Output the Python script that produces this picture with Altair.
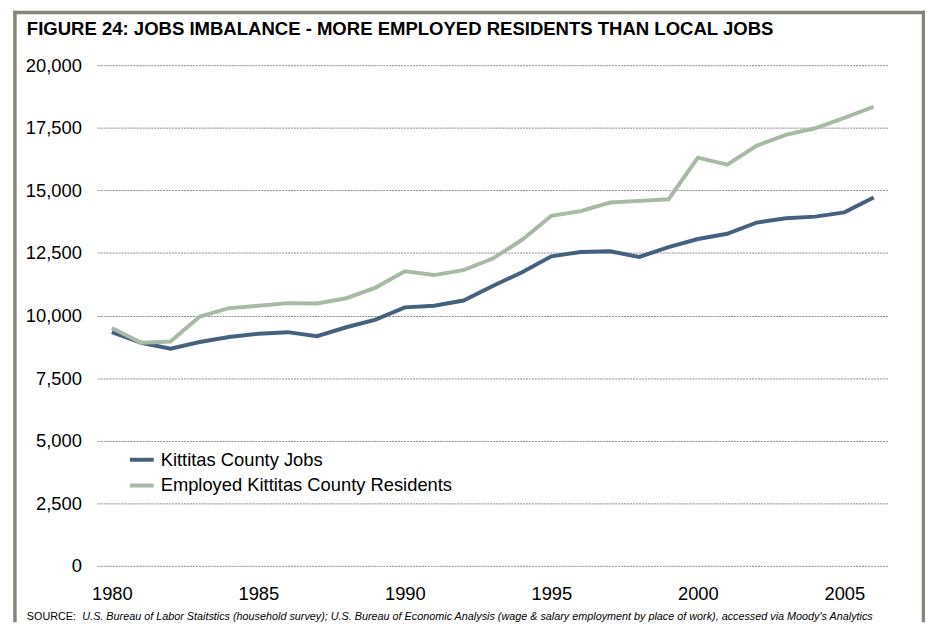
import altair as alt
import pandas as pd

years = list(range(1980, 2007))
jobs = [9335, 8910, 8675, 8940, 9140, 9270, 9335, 9175, 9530, 9835, 10325, 10390, 10600,
        11180, 11730, 12365, 12540, 12565, 12340, 12735, 13055, 13265, 13710, 13885, 13950,
        14120, 14715]
residents = [9505, 8910, 8960, 9960, 10295, 10390, 10495, 10480, 10690, 11115, 11770, 11615,
             11810, 12275, 13025, 13985, 14170, 14515, 14580, 14645, 16305, 16030, 16780,
             17215, 17480, 17900, 18340]
series_names = ["Kittitas County Jobs", "Employed Kittitas County Residents"]
series_colors = ["#46617e", "#a8b9a6"]
y_ticks = [0, 2500, 5000, 7500, 10000, 12500, 15000, 17500, 20000]
x_ticks = [1980, 1985, 1990, 1995, 2000, 2005]
title_text = "FIGURE 24: JOBS IMBALANCE - MORE EMPLOYED RESIDENTS THAN LOCAL JOBS"
source_label = "SOURCE:"
source_text = ("U.S. Bureau of Labor Staitstics (household survey); U.S. Bureau of Economic "
               "Analysis (wage & salary employment by place of work), accessed via Moody's Analytics")

df = pd.DataFrame({
    "year": years * 2,
    "value": jobs + residents,
    "series": [series_names[0]] * len(years) + [series_names[1]] * len(years),
})

W, H = 798, 505
FONT = "Liberation Sans"
FRAME = "#868679"

lines = alt.Chart(df).mark_line(strokeWidth=4, strokeJoin="miter", strokeCap="butt").encode(
    x=alt.X("year:Q", scale=alt.Scale(domain=[1979.5, 2006.5], nice=False, zero=False),
            axis=alt.Axis(values=x_ticks, format="d", title=None, grid=False, domain=False,
                          ticks=False, labelPadding=19, labelFontSize=18.5, labelFont=FONT,
                          labelColor="#000000")),
    y=alt.Y("value:Q", scale=alt.Scale(domain=[0, 20000], nice=False),
            axis=alt.Axis(values=y_ticks, format=",.0f", title=None, grid=True, domain=False,
                          ticks=False, labelPadding=16, labelFontSize=18.5, labelFont=FONT,
                          labelColor="#000000", gridColor="#8a8a8a", gridDash=[2, 1],
                          gridWidth=1)),
    color=alt.Color("series:N", sort=series_names,
                    scale=alt.Scale(domain=series_names, range=series_colors),
                    legend=alt.Legend(title=None, orient="none", legendX=31, legendY=384,
                                      symbolType="stroke", symbolSize=576,
                                      symbolStrokeWidth=4, labelFontSize=18.5, labelFont=FONT,
                                      labelColor="#000000", labelOffset=5, rowPadding=2,
                                      padding=0, labelLimit=500)),
    detail="series:N",
)

one = pd.DataFrame({"t": [title_text]})
title = alt.Chart(one).mark_text(align="left", baseline="alphabetic", fontSize=18.7,
                                 fontWeight="bold", font=FONT, color="#000000").encode(
    x=alt.value(-71), y=alt.value(-30), text="t:N")

src1 = alt.Chart(pd.DataFrame({"t": [source_label]})).mark_text(
    align="left", baseline="middle", fontSize=10.9, font=FONT, color="#000000").encode(
    x=alt.value(-71), y=alt.value(557), text="t:N")
src2 = alt.Chart(pd.DataFrame({"t": [source_text]})).mark_text(
    align="left", baseline="middle", fontSize=10.9, font=FONT, fontStyle="italic",
    color="#000000").encode(x=alt.value(-15), y=alt.value(557), text="t:N")

frame_df = pd.DataFrame({"k": [0]})
left_border = alt.Chart(frame_df).mark_rule(color=FRAME, strokeWidth=3.5).encode(
    x=alt.value(-83), y=alt.value(-55), y2=alt.value(562))
right_border = alt.Chart(frame_df).mark_rule(color=FRAME, strokeWidth=3.5).encode(
    x=alt.value(833.5), y=alt.value(-55), y2=alt.value(562))
top_border = alt.Chart(frame_df).mark_rule(color=FRAME, strokeWidth=3.5).encode(
    x=alt.value(-84.75), x2=alt.value(835.25), y=alt.value(-53.25))

chart = alt.layer(lines, title, src1, src2, left_border, right_border, top_border).properties(
    width=W, height=H,
    autosize=alt.AutoSizeParams(type="none"),
    padding={"left": 90, "top": 55, "right": 37, "bottom": 57},
    background="#ffffff",
).configure_view(strokeWidth=0)

chart.save("out.html", embed_options={"renderer": "svg", "actions": False})
